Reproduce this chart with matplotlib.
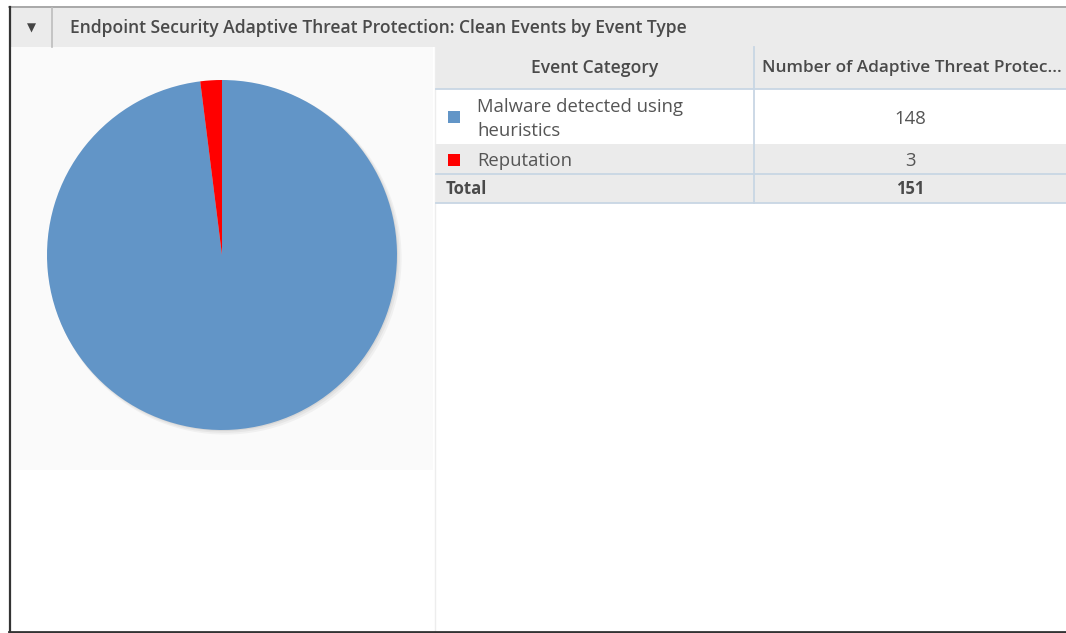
import matplotlib
matplotlib.use("Agg")
import matplotlib.pyplot as plt
from matplotlib.patches import Rectangle, Circle
from matplotlib import font_manager as fm

# ---- data ----
title = "Endpoint Security Adaptive Threat Protection: Clean Events by Event Type"
categories = ["Malware detected using\nheuristics", "Reputation"]
values = [148, 3]
colors = ["#6295c7", "#ff0000"]
col_headers = ["Event Category", "Number of Adaptive Threat Protec..."]
total_label = "Total"
total_value = sum(values)

W, H = 1066, 633
fig = plt.figure(figsize=(W / 100, H / 100), dpi=100)
fig.patch.set_facecolor("white")

bg = fig.add_axes([0, 0, 1, 1])
bg.set_xlim(0, W)
bg.set_ylim(H, 0)
bg.axis("off")

avail = {f.name for f in fm.fontManager.ttflist}
body_font = "Open Sans" if "Open Sans" in avail else "DejaVu Sans"
head_font = body_font

renderer = fig.canvas.get_renderer()


def fit(t, target):
    for _ in range(3):
        bb = t.get_window_extent(renderer)
        if bb.width > 0:
            t.set_fontsize(t.get_fontsize() * target / bb.width)
    return t.get_fontsize()


# measure body font size
m = bg.text(0, 0, "Malware detected using", fontsize=11, family=body_font)
body_fs = fit(m, 205)
m.remove()

# ---- frame & header ----
bg.add_patch(Rectangle((10, 8), W - 10, 39, facecolor="#ebebeb", edgecolor="none", zorder=1))
bg.add_patch(Rectangle((12, 47), 421, 423, facecolor="#fafafa", edgecolor="none", zorder=1))
bg.plot([9, W], [7, 7], color="#9a9a9a", lw=1.2, zorder=5)
bg.plot([9.5, 9.5], [7, 632], color="#333333", lw=1.6, zorder=5)
bg.plot([9, W], [631.5, 631.5], color="#333333", lw=2.0, zorder=5)
bg.plot([52, 52], [8, 47], color="#bdbdbd", lw=1.2, zorder=5)
bg.plot([435, 435], [47, 631], color="#ededed", lw=1.0, zorder=2)
bg.text(31, 28, "\u25bc", ha="center", va="center", fontsize=8.5, color="#444444",
        family="DejaVu Sans", zorder=6)
tt = bg.text(70, 28, title, ha="left", va="center", fontsize=11, color="#4a4a4a",
             family=head_font, fontweight="semibold", zorder=6)
fit(tt, 620)

# ---- table ----
x0, xdiv, x1 = 436, 754, W
row_tops = [89, 144]
row_bots = [144, 174]
row_bg = ["#ffffff", "#ebebeb"]
bg.add_patch(Rectangle((x0, 47), x1 - x0, 42, facecolor="#ebebeb", edgecolor="none", zorder=1))
# headers
h1 = bg.text((x0 + xdiv) / 2, 68, col_headers[0], ha="center", va="center", fontsize=10.5,
             color="#4a4a4a", family=head_font, fontweight="semibold", zorder=6)
h2 = bg.text(762, 68, col_headers[1], ha="left", va="center", fontsize=10.5,
             color="#4a4a4a", family=head_font, fontweight="semibold", zorder=6)
head_fs = fit(h1, 128)
fit(h2, 300)

for i, (cat, val) in enumerate(zip(categories, values)):
    top, bot = row_tops[i], row_bots[i]
    yc = (top + bot) / 2
    bg.add_patch(Rectangle((448, yc - 5.5), 12, 12, facecolor=colors[i],
                           edgecolor="none", zorder=3))
    bg.add_patch(Rectangle((x0, top), x1 - x0, bot - top, facecolor=row_bg[i],
                           edgecolor="none", zorder=1))
    bg.text(477, yc + 2.5, cat, ha="left", va="center", fontsize=body_fs, color="#555555",
            family=body_font, linespacing=1.4, zorder=6)
    bg.text((xdiv + x1) / 2, yc + 2.5, str(val), ha="center", va="center", fontsize=body_fs,
            color="#555555", family=body_font, zorder=6)
# total row
bg.add_patch(Rectangle((x0, 174), x1 - x0, 29, facecolor="#ebebeb", edgecolor="none", zorder=1))
bg.text(446, 189, total_label, ha="left", va="center", fontsize=head_fs * 0.95, color="#4a4a4a",
        family=head_font, fontweight="bold", zorder=6)
bg.text((xdiv + x1) / 2, 189, str(total_value), ha="center", va="center", fontsize=head_fs * 0.95,
        color="#4a4a4a", family=head_font, fontweight="bold", zorder=6)
# lines
lc = "#c8d6e4"
for y in (89, 174, 203):
    bg.plot([x0, x1], [y, y], color=lc, lw=1.3, zorder=4)
bg.plot([xdiv, xdiv], [47, 203], color=lc, lw=1.3, zorder=4)

# ---- pie ----
cx, cy, r = 222, 255, 175
ra = 182
pax = fig.add_axes([(cx - ra) / W, 1 - (cy + ra) / H, 2 * ra / W, 2 * ra / H])
lim = ra / r
pax.set_aspect("equal")
pax.axis("off")
for k, a in enumerate([0.10, 0.12, 0.18]):
    off = 0.006 * (3 - k)
    pax.add_patch(Circle((off, -off), 1.0 + 0.004 * (2 - k), facecolor="#9a9a9a",
                         edgecolor="none", alpha=a, zorder=0))
pax.pie(values, colors=colors, startangle=90, counterclock=False, radius=1.0,
        wedgeprops=dict(linewidth=0, edgecolor="none"))
pax.set_xlim(-lim, lim)
pax.set_ylim(-lim, lim)

fig.savefig("out.png", dpi=100, facecolor="white")
